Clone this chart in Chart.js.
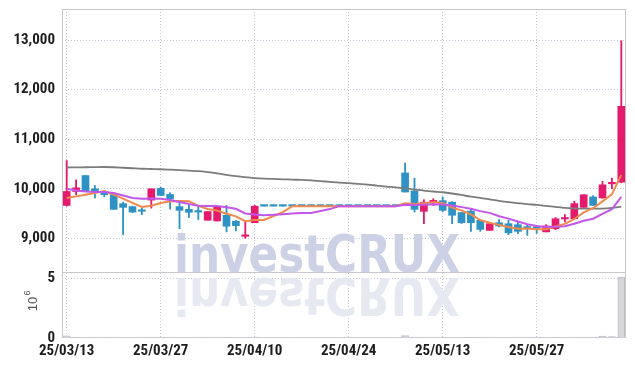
<!DOCTYPE html>
<html>
<head>
<meta charset="utf-8">
<script src="https://cdn.jsdelivr.net/npm/chart.js@4.4.1/dist/chart.umd.min.js"></script>
<style>
  html, body { margin: 0; padding: 0; background: #fff; }
</style>
</head>
<body>
<canvas id="chart" width="635" height="366"></canvas>
<script>
// trading days (YY/MM/DD)
const dates = [
  '25/03/13','25/03/14','25/03/17','25/03/18','25/03/19','25/03/20','25/03/21','25/03/24','25/03/25','25/03/26',
  '25/03/27','25/03/28','25/03/31','25/04/01','25/04/02','25/04/03','25/04/04','25/04/07','25/04/08','25/04/09',
  '25/04/10','25/04/11','25/04/14','25/04/15','25/04/16','25/04/17','25/04/18','25/04/21','25/04/22','25/04/23',
  '25/04/24','25/04/25','25/04/28','25/04/29','25/04/30','25/05/02','25/05/07','25/05/08','25/05/09','25/05/12',
  '25/05/13','25/05/14','25/05/15','25/05/16','25/05/19','25/05/20','25/05/21','25/05/22','25/05/23','25/05/26',
  '25/05/27','25/05/28','25/05/29','25/05/30','25/06/02','25/06/04','25/06/05','25/06/09','25/06/10','25/06/11'
];

const opens = [
  9664, 9946, 10267, 10000, 9935, 9880, 9700, 9640, 9555, 9772,
  10010, 9885, 9640, 9585, 9535, 9365, 9350, 9465, 9345, 9040,
  9315, 9650, 9650, 9650, 9650, 9650, 9650, 9650, 9650, 9650,
  9650, 9650, 9650, 9650, 9650, 9650, 10320, 9955, 9545, 9735,
  9760, 9730, 9520, 9550, 9365, 9160, 9315, 9295, 9275, 9215,
  9215, 9130, 9195, 9390, 9395, 9625, 9835, 9815, 10100, 10135
];
const highs = [
  10570, 10180, 10270, 10066, 9940, 9890, 9730, 9650, 9610, 10000,
  10030, 9920, 9710, 9685, 9650, 9540, 9645, 9665, 9360, 9330,
  9665, 9650, 9650, 9650, 9650, 9650, 9650, 9650, 9650, 9650,
  9650, 9650, 9650, 9650, 9650, 9650, 10520, 10215, 9780, 9800,
  9835, 9740, 9520, 9585, 9370, 9295, 9380, 9365, 9345, 9275,
  9250, 9275, 9420, 9480, 9750, 9880, 9860, 10150, 10215, 12990
];
const lows = [
  9650, 9880, 9960, 9813, 9840, 9584, 9075, 9520, 9480, 9610,
  9860, 9590, 9195, 9420, 9380, 9365, 9350, 9130, 9150, 9000,
  9315, 9650, 9650, 9650, 9650, 9650, 9650, 9650, 9650, 9650,
  9650, 9650, 9650, 9650, 9650, 9650, 9935, 9530, 9295, 9665,
  9540, 9295, 9300, 9140, 9140, 9160, 9230, 9075, 9095, 9060,
  9100, 9130, 9175, 9330, 9395, 9625, 9665, 9810, 10000, 10120
];
const closes = [
  9946, 10020, 9960, 9960, 9880, 9585, 9625, 9530, 9545, 10000,
  9866, 9795, 9565, 9525, 9530, 9540, 9645, 9245, 9255, 9050,
  9650, 9650, 9650, 9650, 9650, 9650, 9650, 9650, 9650, 9650,
  9650, 9650, 9650, 9650, 9650, 9650, 9935, 9585, 9730, 9750,
  9565, 9465, 9315, 9315, 9180, 9295, 9250, 9110, 9140, 9205,
  9205, 9250, 9395, 9400, 9700, 9880, 9665, 10080, 10115, 11665
];
// volume, millions of shares
const volumes = [
  0.18, 0.04, 0.05, 0.03, 0.03, 0.06, 0.05, 0.02, 0.05, 0.07,
  0.04, 0.03, 0.05, 0.02, 0.02, 0.02, 0.03, 0.04, 0.03, 0.05,
  0.08, 0, 0, 0, 0, 0, 0, 0, 0, 0,
  0, 0, 0, 0, 0, 0, 0.2, 0.07, 0.06, 0.05,
  0.04, 0.05, 0.03, 0.04, 0.03, 0.02, 0.03, 0.03, 0.02, 0.02,
  0.02, 0.02, 0.04, 0.03, 0.06, 0.07, 0.05, 0.15, 0.12, 5.08
];
const ma5 = [
  9813, 9847, 9880, 9913, 9953, 9881, 9802, 9716, 9633, 9657,
  9713, 9747, 9754, 9750, 9656, 9591, 9561, 9497, 9443, 9347,
  9369, 9370, 9451, 9530, 9650, 9650, 9650, 9650, 9650, 9650,
  9650, 9650, 9650, 9650, 9650, 9650, 9707, 9694, 9710, 9730,
  9713, 9619, 9565, 9482, 9368, 9314, 9271, 9230, 9195, 9200,
  9182, 9182, 9239, 9291, 9390, 9525, 9608, 9745, 9888, 10281
];
const ma10 = [
  10000, 9966, 9946, 9933, 9933, 9913, 9866, 9813, 9800, 9805,
  9797, 9775, 9735, 9692, 9657, 9652, 9654, 9626, 9597, 9502,
  9480, 9466, 9474, 9487, 9499, 9510, 9510, 9551, 9590, 9650,
  9650, 9650, 9650, 9650, 9650, 9650, 9679, 9672, 9680, 9690,
  9682, 9663, 9630, 9596, 9549, 9514, 9445, 9398, 9339, 9284,
  9248, 9227, 9235, 9243, 9295, 9354, 9395, 9492, 9590, 9836
];
const maLong = [
  10430, 10432, 10435, 10438, 10440, 10435, 10425, 10415, 10405, 10400,
  10395, 10385, 10375, 10365, 10355, 10335, 10310, 10280, 10255, 10235,
  10215, 10205, 10200, 10192, 10185, 10180, 10170, 10155, 10140, 10125,
  10115, 10100, 10085, 10065, 10045, 10030, 10010, 9985, 9965, 9945,
  9930, 9905, 9875, 9840, 9815, 9785, 9755, 9730, 9710, 9690,
  9675, 9655, 9635, 9615, 9605, 9600, 9598, 9600, 9615, 9640
];
const priceTicks = [9000, 10000, 11000, 12000, 13000];
const volumeTicks = [0, 5];

const upColor = '#e41b6c';
const downColor = '#2e93c4';
const gridColor = '#c3c7d9';
const frameColor = '#c9c9cc';

// the axis labels use a narrow bold face; take the first one installed
function pickLabelFont() {
    const probe = document.createElement('canvas').getContext('2d');
    const sample = '13,000 25/03/13';
    const width = family => { probe.font = 'bold 40px ' + family; return probe.measureText(sample).width; };
    const base = width('monospace');
    const narrow = ['"Liberation Sans Narrow"', '"Arial Narrow"', '"Roboto Condensed"', '"Noto Sans Condensed"', '"Open Sans Condensed"'];
    for (const f of narrow) {
        if (width(f + ', monospace') !== base) return { family: f + ', sans-serif', size: 15, weight: 'bold' };
    }
    return { family: 'Roboto, sans-serif', size: 13, weight: 'bold' };
}
const labelFont = pickLabelFont();

const candleColors = closes.map((c, i) => c > opens[i] ? upColor : downColor);

// watermark, panel frame and the 10^6 unit label
const decorations = {
    id: 'decorations',
    beforeDatasetsDraw(chart) {
        const ctx = chart.ctx;
        const area = chart.chartArea;
        const text = 'investCRUX';

        ctx.save();
        ctx.font = 'bold 52px "DejaVu Sans", sans-serif';
        const sx = 286 / ctx.measureText(text).width;
        ctx.translate(174, 272);
        ctx.scale(sx, 1);
        ctx.fillStyle = '#ccd1e5';
        ctx.fillText(text, 0, 0);
        ctx.restore();

        ctx.save();
        ctx.font = 'bold 52px "DejaVu Sans", sans-serif';
        ctx.translate(174, 278);
        ctx.scale(sx, -1);
        ctx.fillStyle = '#e6e8f2';
        ctx.fillText(text, 0, 0);
        ctx.restore();

        // frame + divider between price and volume panes
        ctx.save();
        ctx.strokeStyle = frameColor;
        ctx.lineWidth = 1;
        const divY = Math.round(chart.scales.y.bottom) + 0.5;
        ctx.beginPath();
        ctx.moveTo(area.left + 0.5, area.bottom);
        ctx.lineTo(area.left + 0.5, area.top + 0.5);
        ctx.lineTo(area.right - 0.5, area.top + 0.5);
        ctx.lineTo(area.right - 0.5, area.bottom);
        ctx.moveTo(area.left, divY);
        ctx.lineTo(area.right, divY);
        ctx.moveTo(area.left, Math.round(area.bottom) - 0.5);
        ctx.lineTo(area.right, Math.round(area.bottom) - 0.5);
        ctx.stroke();
        ctx.restore();
    },
    afterDraw(chart) {
        const ctx = chart.ctx;
        ctx.save();
        ctx.translate(33, 301);
        ctx.rotate(-Math.PI / 2);
        ctx.fillStyle = '#555';
        ctx.textAlign = 'center';
        ctx.textBaseline = 'middle';
        ctx.font = '13px "Liberation Sans", sans-serif';
        ctx.fillText('10', -3, 0);
        ctx.font = '9px "Liberation Sans", sans-serif';
        ctx.fillText('6', 8, -5);
        ctx.restore();
    }
};

const fitLeftAxis = s => {
    s.width = 62;
    s.paddingTop = 0;
    s.paddingBottom = 0;
};

new Chart(document.getElementById('chart'), {
    type: 'bar',
    data: {
        labels: dates,
        datasets: [
            {
                type: 'line', label: 'MA10', data: ma10, yAxisID: 'y', order: 1,
                borderColor: '#c257e8', borderWidth: 2, pointRadius: 0, tension: 0
            },
            {
                type: 'line', label: 'MA5', data: ma5, yAxisID: 'y', order: 2,
                borderColor: '#f08a4b', borderWidth: 2, pointRadius: 0, tension: 0
            },
            {
                type: 'line', label: 'MA long', data: maLong, yAxisID: 'y', order: 3,
                borderColor: '#7c7c7c', borderWidth: 1.8, pointRadius: 0, tension: 0.3
            },
            {
                label: 'body', data: opens.map((o, i) => [o, closes[i]]), yAxisID: 'y', order: 4,
                backgroundColor: candleColors, barThickness: 7, minBarLength: 1.5, grouped: false
            },
            {
                label: 'wick', data: lows.map((l, i) => [l, highs[i]]), yAxisID: 'y', order: 5,
                backgroundColor: candleColors, barThickness: 1.2, minBarLength: 1, grouped: false
            },
            {
                label: 'volume', data: volumes, yAxisID: 'yv', order: 6,
                backgroundColor: '#d5d5dc', borderColor: '#bdbdc6',
                borderWidth: ctx => (ctx.raw > 0 ? 1 : 0),
                barThickness: 7, grouped: false
            }
        ]
    },
    options: {
        responsive: false,
        animation: false,
        events: [],
        layout: { padding: { top: 9, right: 9, left: 0, bottom: 0 } },
        plugins: { legend: { display: false }, tooltip: { enabled: false } },
        scales: {
            x: {
                type: 'category',
                offset: true,
                grid: {
                    offset: false,
                    drawTicks: false,
                    color: ctx => (ctx.index % 10 === 0 ? gridColor : 'transparent')
                },
                border: { display: false, dash: [1, 2] },
                ticks: {
                    autoSkip: false, maxRotation: 0, padding: 4, color: '#1d1d1d', font: labelFont,
                    callback: (v, i) => (i % 10 === 0 ? dates[i] : '')
                },
                afterFit: s => { s.height = 28; }
            },
            yv: {
                type: 'linear', position: 'left', stack: 'panes', stackWeight: 66,
                min: 0, max: 5.5,
                afterBuildTicks: s => { s.ticks = volumeTicks.map(v => ({ value: v })); },
                grid: { drawTicks: false, color: ctx => (ctx.tick && ctx.tick.value === 0 ? 'transparent' : gridColor) },
                border: { display: false, dash: [1, 2] },
                ticks: { padding: 7, color: '#1d1d1d', font: labelFont },
                afterFit: fitLeftAxis
            },
            y: {
                type: 'linear', position: 'left', stack: 'panes', stackWeight: 263,
                min: 8320, max: 13630,
                afterBuildTicks: s => { s.ticks = priceTicks.map(v => ({ value: v })); },
                grid: { drawTicks: false, color: gridColor },
                border: { display: false, dash: [1, 2] },
                ticks: {
                    padding: 7, color: '#1d1d1d', font: labelFont,
                    callback: v => v.toLocaleString('en-US')
                },
                afterFit: fitLeftAxis
            }
        }
    },
    plugins: [decorations]
});
</script>
</body>
</html>
